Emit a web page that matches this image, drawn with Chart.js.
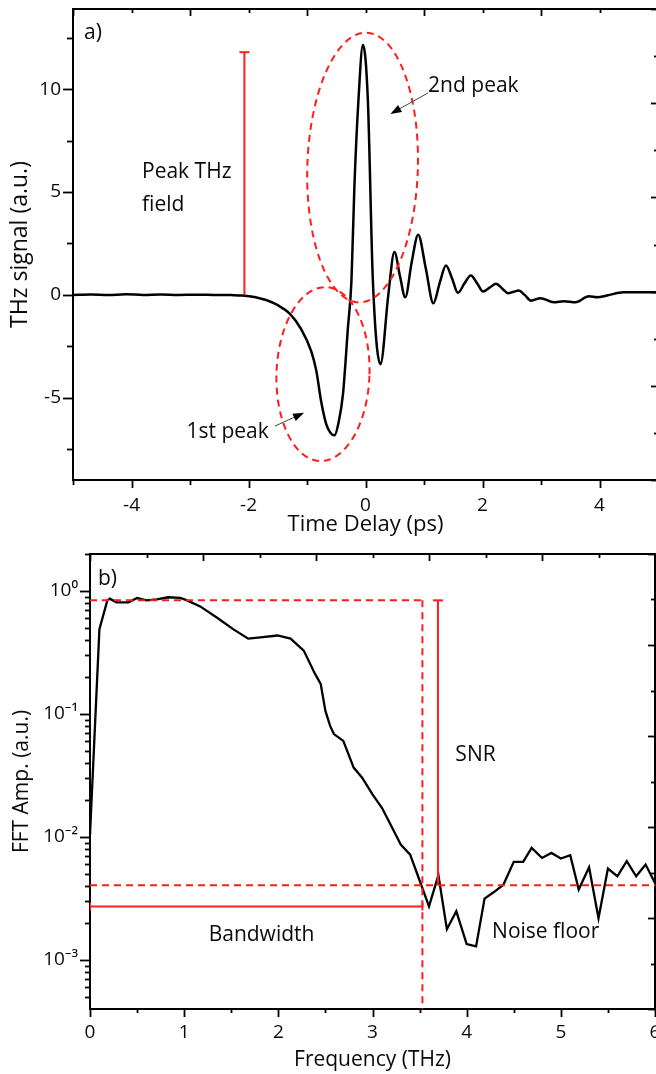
<!DOCTYPE html>
<html><head><meta charset="utf-8">
<script src="https://cdn.jsdelivr.net/npm/chart.js@4.4.1/dist/chart.umd.min.js"></script>
<style>
html,body{margin:0;padding:0;background:#fff;overflow:hidden;width:656px;height:1074px}
#wrap{position:relative;width:656px;height:1074px;overflow:hidden;background:#fff}
.box{position:absolute;left:0}
#boxA{top:0}
#boxB{top:540px}
</style></head><body>
<div id="wrap">
<div class="box" id="boxA"><canvas id="cA" width="662" height="540"></canvas></div>
<div class="box" id="boxB"><canvas id="cB" width="662" height="534"></canvas></div>
</div>
<script>
// ---- panel a) data ----
const timeDelay = [-5.0,-4.7,-4.4,-4.1,-3.8,-3.5,-3.2,-2.9,-2.6,-2.3,-2.1,-1.9,-1.7,-1.5,-1.3,-1.1,-0.93,-0.84,-0.76,-0.67,-0.6,-0.53,-0.46,-0.385,-0.30,-0.24,-0.19,-0.12,-0.044,0.04,0.126,0.256,0.39,0.494,0.59,0.68,0.79,0.90,1.03,1.16,1.27,1.375,1.48,1.58,1.69,1.80,1.91,2.01,2.12,2.23,2.34,2.44,2.53,2.62,2.72,2.83,2.99,3.22,3.39,3.59,3.82,3.96,4.13,4.41,5.0];
const thzSignal = [0,0.02,-0.01,0.03,0,0.02,0,0.01,0,-0.01,-0.03,-0.1,-0.25,-0.5,-0.9,-1.66,-2.72,-3.7,-5.15,-6.3,-6.7,-6.83,-6.2,-4.83,-1.58,0.7,5.25,9.5,12.16,9.5,0.7,-3.37,0.0,2.08,0.9,-0.12,1.6,2.93,1.3,-0.41,0.6,1.43,0.8,0.1,0.55,0.94,0.55,0.16,0.35,0.54,0.3,0.08,0.15,0.21,0.0,-0.28,-0.16,-0.36,-0.31,-0.36,-0.07,-0.12,-0.03,0.13,0.13];
const timeTicks = [-4,-2,0,2,4];
const timeMinorTicks = [-5,-3,-1,1,3,5];
const signalTicks = [-5,0,5,10];
const signalMinorTicks = [-7.5,-2.5,2.5,7.5,12.5];

// ---- panel b) data ----
const frequency = [0,0.1,0.184,0.21,0.28,0.41,0.5,0.6,0.71,0.83,0.96,1.03,1.17,1.35,1.52,1.68,1.81,1.99,2.13,2.27,2.39,2.45,2.5,2.55,2.59,2.69,2.80,2.89,3.0,3.10,3.19,3.30,3.40,3.51,3.60,3.70,3.79,3.89,4.0,4.10,4.19,4.29,4.39,4.50,4.60,4.69,4.80,4.90,5.0,5.10,5.19,5.30,5.40,5.50,5.60,5.70,5.80,5.90,6.0];
const fftAmp = [0.0105,0.49,0.84,0.867,0.81,0.81,0.877,0.84,0.855,0.89,0.88,0.84,0.75,0.607,0.49,0.41,0.42,0.435,0.41,0.328,0.212,0.176,0.106,0.080,0.0687,0.0605,0.0367,0.0304,0.0222,0.0173,0.0127,0.0087,0.0072,0.00423,0.00273,0.00489,0.00178,0.00249,0.00135,0.00129,0.00316,0.00357,0.0041,0.00628,0.00628,0.00817,0.00676,0.00743,0.00669,0.00711,0.00374,0.00568,0.00219,0.00554,0.0048,0.00636,0.0048,0.00598,0.00423];
const freqTicks = [0,1,2,3,4,5,6];
const freqMinorTicks = [0.5,1.5,2.5,3.5,4.5,5.5];
const ampTicks = [1e-3,1e-2,1e-1,1];
const ampTickLabels = ['10\u207B\u00B3','10\u207B\u00B2','10\u207B\u00B9','10\u2070'];
const ampMinorTicks = [5e-4,6e-4,7e-4,8e-4,9e-4,2e-3,3e-3,4e-3,5e-3,6e-3,7e-3,8e-3,9e-3,2e-2,3e-2,4e-2,5e-2,6e-2,7e-2,8e-2,9e-2,0.2,0.3,0.4,0.5,0.6,0.7,0.8,0.9,2];
const frameTicksEven = [0,2,4,6,8,10];
const frameTicksOdd = [1,3,5,7,9];

// reference levels for panel b)
const peakLevel = 0.84, noiseLevel = 0.00405, bandwidthLevel = 0.00273, bandwidthEdge = 3.53, snrFreq = 3.695;

const RED = '#ff1d1d';
const INK = '#0a0a0a';
const FONT = '"Open Sans", "Noto Sans", sans-serif';
Chart.defaults.font.family = FONT;
Chart.defaults.color = INK;

// tick-mark plugin (draws ticks through the scales)
const tickPlugin = {
  id: 'tk',
  afterDraw(chart, args, opts) {
    const ctx = chart.ctx, ca = chart.chartArea;
    ctx.save();
    ctx.strokeStyle = '#000';
    ctx.lineWidth = 1.8;
    ctx.setLineDash([]);
    for (const g of opts.marks) {
      const s = chart.scales[g.axis];
      for (const v of g.values) {
        const p = Math.round(s.getPixelForValue(v)) + 0.5;
        ctx.beginPath();
        if (s.position === 'bottom') { ctx.moveTo(p, ca.bottom); ctx.lineTo(p, ca.bottom + g.len); }
        else if (s.position === 'top') { ctx.moveTo(p, ca.top); ctx.lineTo(p, ca.top + g.len); }
        else if (s.position === 'left') { ctx.moveTo(ca.left, p); ctx.lineTo(ca.left - g.len, p); }
        else { ctx.moveTo(ca.right, p); ctx.lineTo(ca.right - g.len, p); }
        ctx.stroke();
      }
    }
    ctx.restore();
  }
};

// annotation plugin (everything placed in data coordinates through the scales)
const notesPlugin = {
  id: 'notes',
  afterDatasetsDraw(chart, args, opts) {
    const ctx = chart.ctx, ca = chart.chartArea;
    const xs = chart.scales.x, ys = chart.scales.y;
    const X = v => xs.getPixelForValue(v), Y = v => ys.getPixelForValue(v);
    ctx.save();
    ctx.beginPath(); ctx.rect(ca.left, ca.top, ca.right - ca.left, ca.bottom - ca.top); ctx.clip();
    for (const it of opts.items) {
      ctx.setLineDash([]);
      if (it.type === 'line') {
        const x1 = X(it.x1), y1 = Y(it.y1), x2 = X(it.x2), y2 = Y(it.y2);
        ctx.strokeStyle = RED; ctx.lineWidth = it.width || 2;
        ctx.setLineDash(it.dash ? [7, 5] : []);
        ctx.beginPath(); ctx.moveTo(x1, y1); ctx.lineTo(x2, y2); ctx.stroke();
        if (it.caps) {
          ctx.setLineDash([]);
          const len = Math.hypot(x2 - x1, y2 - y1), nx = -(y2 - y1) / len, ny = (x2 - x1) / len;
          for (const c of it.caps) {
            const px = c === 1 ? x1 : x2, py = c === 1 ? y1 : y2;
            ctx.beginPath(); ctx.moveTo(px - nx * it.capSize, py - ny * it.capSize); ctx.lineTo(px + nx * it.capSize, py + ny * it.capSize); ctx.stroke();
          }
        }
      } else if (it.type === 'ellipse') {
        const cx = X(it.cx), cy = Y(it.cy);
        const rx = Math.abs(X(it.cx + it.rx) - cx), ry = Math.abs(Y(it.cy + it.ry) - cy);
        ctx.strokeStyle = RED; ctx.lineWidth = 2; ctx.setLineDash([7, 5]);
        ctx.beginPath(); ctx.ellipse(cx, cy, rx, ry, it.rot || 0, 0, Math.PI * 2); ctx.stroke();
      } else if (it.type === 'arrow') {
        const x1 = X(it.x1), y1 = Y(it.y1), x2 = X(it.x2), y2 = Y(it.y2);
        const a = Math.atan2(y2 - y1, x2 - x1);
        ctx.strokeStyle = '#444'; ctx.lineWidth = 1;
        ctx.beginPath(); ctx.moveTo(x1, y1); ctx.lineTo(x2 - 8 * Math.cos(a), y2 - 8 * Math.sin(a)); ctx.stroke();
        ctx.fillStyle = '#000';
        ctx.beginPath(); ctx.moveTo(x2, y2);
        ctx.lineTo(x2 - 11 * Math.cos(a) + 4 * Math.sin(a), y2 - 11 * Math.sin(a) - 4 * Math.cos(a));
        ctx.lineTo(x2 - 11 * Math.cos(a) - 4 * Math.sin(a), y2 - 11 * Math.sin(a) + 4 * Math.cos(a));
        ctx.closePath(); ctx.fill();
      }
    }
    ctx.restore();
    ctx.save();
    for (const it of opts.items) {
      if (it.type !== 'text') continue;
      ctx.font = (it.size || 21) + 'px ' + FONT;
      ctx.fillStyle = INK; ctx.textAlign = 'left'; ctx.textBaseline = 'alphabetic';
      ctx.fillText(it.text, X(it.x), Y(it.y));
    }
    ctx.restore();
  }
};

// fixed box size, no extra label padding, so the plot frame lands where the reference has it
function fixedSize(prop, size) {
  return s => { s[prop] = size; s.paddingLeft = 0; s.paddingRight = 0; s.paddingTop = 0; s.paddingBottom = 0; };
}
function setTicks(values) { return s => { s.ticks = values.map(v => ({ value: v })); }; }
const frameScale = (pos, prop, size) => ({
  type: 'linear', position: pos, min: 0, max: 10,
  grid: { display: false, drawTicks: false },
  ticks: { display: false },
  border: { display: true, color: '#000', width: 2 },
  afterFit: fixedSize(prop, size)
});
const tickFont = { size: 19, family: FONT };

// ---------------- chart a ----------------
new Chart(document.getElementById('cA'), {
  type: 'line',
  data: { datasets: [{
    data: timeDelay.map((t, i) => ({ x: t, y: thzSignal[i] })),
    borderColor: '#000', borderWidth: 2.5, pointRadius: 0, fill: false,
    cubicInterpolationMode: 'monotone', xAxisID: 'x', yAxisID: 'y'
  }] },
  options: {
    responsive: false, animation: false, devicePixelRatio: 1,
    layout: { padding: 0 },
    plugins: {
      legend: { display: false }, tooltip: { enabled: false },
      tk: { marks: [
        { axis: 'x', values: timeTicks, len: 8 },
        { axis: 'x', values: timeMinorTicks, len: 5 },
        { axis: 'y', values: signalTicks, len: 10 },
        { axis: 'y', values: signalMinorTicks, len: 6 },
        { axis: 'x2', values: frameTicksEven, len: 7 },
        { axis: 'x2', values: frameTicksOdd, len: 4 },
        { axis: 'y2', values: frameTicksEven, len: 7 },
        { axis: 'y2', values: frameTicksOdd, len: 4 }
      ] },
      notes: { items: [
        { type: 'line', x1: -2.07, y1: 0, x2: -2.07, y2: 11.8, caps: [2], capSize: 5 },
        { type: 'ellipse', cx: -0.727, cy: -3.85, rx: 0.795, ry: 4.23, rot: 0.035 },
        { type: 'ellipse', cx: -0.05, cy: 6.19, rx: 0.945, ry: 6.56, rot: 0.03 },
        { type: 'arrow', x1: 1.07, y1: 9.82, x2: 0.426, y2: 8.80 },
        { type: 'arrow', x1: -1.55, y1: -6.38, x2: -1.05, y2: -5.73 },
        { type: 'text', text: 'a)', x: -4.81, y: 12.44 },
        { type: 'text', text: 'Peak THz', x: -3.82, y: 5.66 },
        { type: 'text', text: 'field', x: -3.82, y: 4.08 },
        { type: 'text', text: '2nd peak', x: 1.07, y: 9.85 },
        { type: 'text', text: '1st peak', x: -3.06, y: -6.98 }
      ] }
    },
    scales: {
      x: {
        type: 'linear', position: 'bottom', min: -5, max: 5,
        afterBuildTicks: setTicks(timeTicks), afterFit: fixedSize('height', 60),
        grid: { display: false, drawTicks: false },
        border: { display: true, color: '#000', width: 2 },
        ticks: { font: tickFont, color: INK, padding: 14, maxRotation: 0, autoSkip: false },
        title: { display: true, text: 'Time Delay (ps)', font: { size: 22, family: FONT }, color: INK, padding: { top: 0, bottom: 2 } }
      },
      y: {
        type: 'linear', position: 'left', min: -9, max: 13.9,
        afterBuildTicks: setTicks(signalTicks), afterFit: fixedSize('width', 73),
        grid: { display: false, drawTicks: false },
        border: { display: true, color: '#000', width: 2 },
        ticks: { font: tickFont, color: INK, padding: 12, autoSkip: false },
        title: { display: true, text: 'THz signal (a.u.)', font: { size: 23, family: FONT }, color: INK, padding: { top: 7, bottom: 0 } }
      },
      x2: frameScale('top', 'height', 9),
      y2: frameScale('right', 'width', 4)
    }
  },
  plugins: [tickPlugin, notesPlugin]
});

// ---------------- chart b ----------------
new Chart(document.getElementById('cB'), {
  type: 'line',
  data: { datasets: [{
    data: frequency.map((f, i) => ({ x: f, y: fftAmp[i] })),
    borderColor: '#000', borderWidth: 2.3, pointRadius: 0, fill: false, tension: 0,
    xAxisID: 'x', yAxisID: 'y'
  }] },
  options: {
    responsive: false, animation: false, devicePixelRatio: 1,
    layout: { padding: 0 },
    plugins: {
      legend: { display: false }, tooltip: { enabled: false },
      tk: { marks: [
        { axis: 'x', values: freqTicks, len: 8 },
        { axis: 'x', values: freqMinorTicks, len: 4 },
        { axis: 'y', values: ampTicks, len: 10 },
        { axis: 'y', values: ampMinorTicks, len: 5 },
        { axis: 'x2', values: frameTicksEven, len: 7 },
        { axis: 'x2', values: frameTicksOdd, len: 4 },
        { axis: 'y2', values: frameTicksEven, len: 7 },
        { axis: 'y2', values: frameTicksOdd, len: 4 }
      ] },
      notes: { items: [
        { type: 'line', x1: 0, y1: peakLevel, x2: bandwidthEdge, y2: peakLevel, dash: true },
        { type: 'line', x1: bandwidthEdge, y1: peakLevel, x2: bandwidthEdge, y2: 4e-4, dash: true },
        { type: 'line', x1: 0, y1: noiseLevel, x2: 6, y2: noiseLevel, dash: true },
        { type: 'line', x1: snrFreq, y1: noiseLevel, x2: snrFreq, y2: peakLevel, caps: [2], capSize: 5 },
        { type: 'line', x1: 0, y1: bandwidthLevel, x2: bandwidthEdge, y2: bandwidthLevel, caps: [1, 2], capSize: 4 },
        { type: 'text', text: 'b)', x: 0.085, y: 1.11 },
        { type: 'text', text: 'SNR', x: 3.88, y: 0.0416 },
        { type: 'text', text: 'Bandwidth', x: 1.26, y: 0.001435 },
        { type: 'text', text: 'Noise floor', x: 4.27, y: 0.001507 }
      ] }
    },
    scales: {
      x: {
        type: 'linear', position: 'bottom', min: 0, max: 6,
        afterBuildTicks: setTicks(freqTicks), afterFit: fixedSize('height', 65),
        grid: { display: false, drawTicks: false },
        border: { display: true, color: '#000', width: 2 },
        ticks: { font: tickFont, color: INK, padding: 12, maxRotation: 0, autoSkip: false },
        title: { display: true, text: 'Frequency (THz)', font: { size: 21, family: FONT }, color: INK, padding: { top: 0, bottom: 1 } }
      },
      y: {
        type: 'logarithmic', position: 'left', min: 4e-4, max: 2,
        afterBuildTicks: setTicks(ampTicks), afterFit: fixedSize('width', 90),
        grid: { display: false, drawTicks: false },
        border: { display: true, color: '#000', width: 2 },
        ticks: { font: tickFont, color: INK, padding: 12, autoSkip: false,
          callback: v => { const i = ampTicks.indexOf(v); return i >= 0 ? ampTickLabels[i] : ''; } },
        title: { display: true, text: 'FFT Amp. (a.u.)', font: { size: 21, family: FONT }, color: INK, padding: { top: 9, bottom: 0 } }
      },
      x2: frameScale('top', 'height', 14),
      y2: frameScale('right', 'width', 7)
    }
  },
  plugins: [tickPlugin, notesPlugin]
});
</script>
</body></html>
